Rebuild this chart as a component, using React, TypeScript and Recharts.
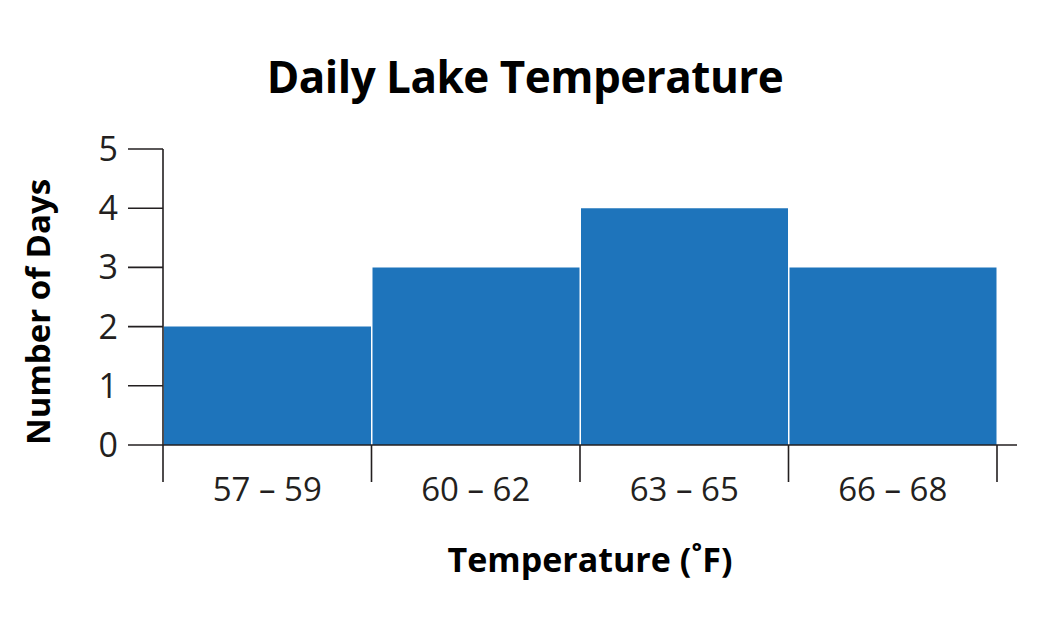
import React from "react";
import { BarChart, Bar, XAxis, YAxis } from "recharts";

const categories = ["57 – 59", "60 – 62", "63 – 65", "66 – 68"];
const dayCounts = [2, 3, 4, 3];
const yTicks = [0, 1, 2, 3, 4, 5];

const data = categories.map((range, i) => ({ range, days: dayCounts[i] }));

const INK = "#231f20";
const FONT = "'Open Sans', sans-serif";

const BinTick = (props: any) => {
  const { x, y, payload, index } = props;
  const half = payload?.offset ?? 104;
  const isLast = index === categories.length - 1;
  return (
    <g>
      <line x1={x - half} y1={y} x2={x - half} y2={y + 37} stroke={INK} strokeWidth={1.6} />
      {isLast && (
        <line x1={x + half} y1={y} x2={x + half} y2={y + 37} stroke={INK} strokeWidth={1.6} />
      )}
      <text x={x} y={y + 56} textAnchor="middle" fontSize={33} fontFamily={FONT} fill={INK}>
        {payload.value}
      </text>
    </g>
  );
};

const YTitle = (props: any) => {
  const { viewBox } = props;
  const cx = 29;
  const cy = viewBox.y + viewBox.height / 2 + 15;
  return (
    <text
      x={cx}
      y={cy}
      transform={`rotate(-90 ${cx} ${cy})`}
      textAnchor="middle"
      dominantBaseline="central"
      fontSize={33}
      fontWeight={700}
      fontFamily={FONT}
      fill="#000"
    >
      Number of Days
    </text>
  );
};

export default function App() {
  return (
    <div style={{ position: "relative", width: 1040, height: 608, background: "#fff" }}>
      <div
        style={{
          position: "absolute",
          left: 0,
          width: 1034,
          top: 40,
          textAlign: "center",
          fontFamily: FONT,
          fontWeight: 700,
          fontSize: 44,
          letterSpacing: -0.5,
          color: "#000",
          lineHeight: "56px",
        }}
      >
        Daily Lake Temperature
      </div>
      <BarChart
        width={1040}
        height={608}
        data={data}
        margin={{ top: 141, right: 31, left: 75, bottom: 0 }}
        barCategoryGap={1}
      >
        <XAxis
          dataKey="range"
          height={171}
          padding={{ left: 0, right: 20 }}
          axisLine={{ stroke: INK, strokeWidth: 1.6 }}
          tickLine={false}
          tickSize={0}
          tickMargin={0}
          tick={<BinTick />}
          interval={0}
          label={{
            value: "Temperature (˚F)",
            position: "insideBottom",
            offset: 44,
            fontSize: 34,
            fontWeight: 700,
            fontFamily: FONT,
            fill: "#000",
          }}
        />
        <YAxis
          width={80}
          domain={[0, 5]}
          ticks={yTicks}
          interval={0}
          axisLine={{ stroke: INK, strokeWidth: 1.6 }}
          tickLine={{ stroke: INK, strokeWidth: 1.6 }}
          tickSize={35}
          tickMargin={10}
          tick={{ fontSize: 34, fontFamily: FONT, fill: INK }}
          label={<YTitle />}
        />
        <Bar dataKey="days" fill="#1e74bb" isAnimationActive={false} />
      </BarChart>
    </div>
  );
}
